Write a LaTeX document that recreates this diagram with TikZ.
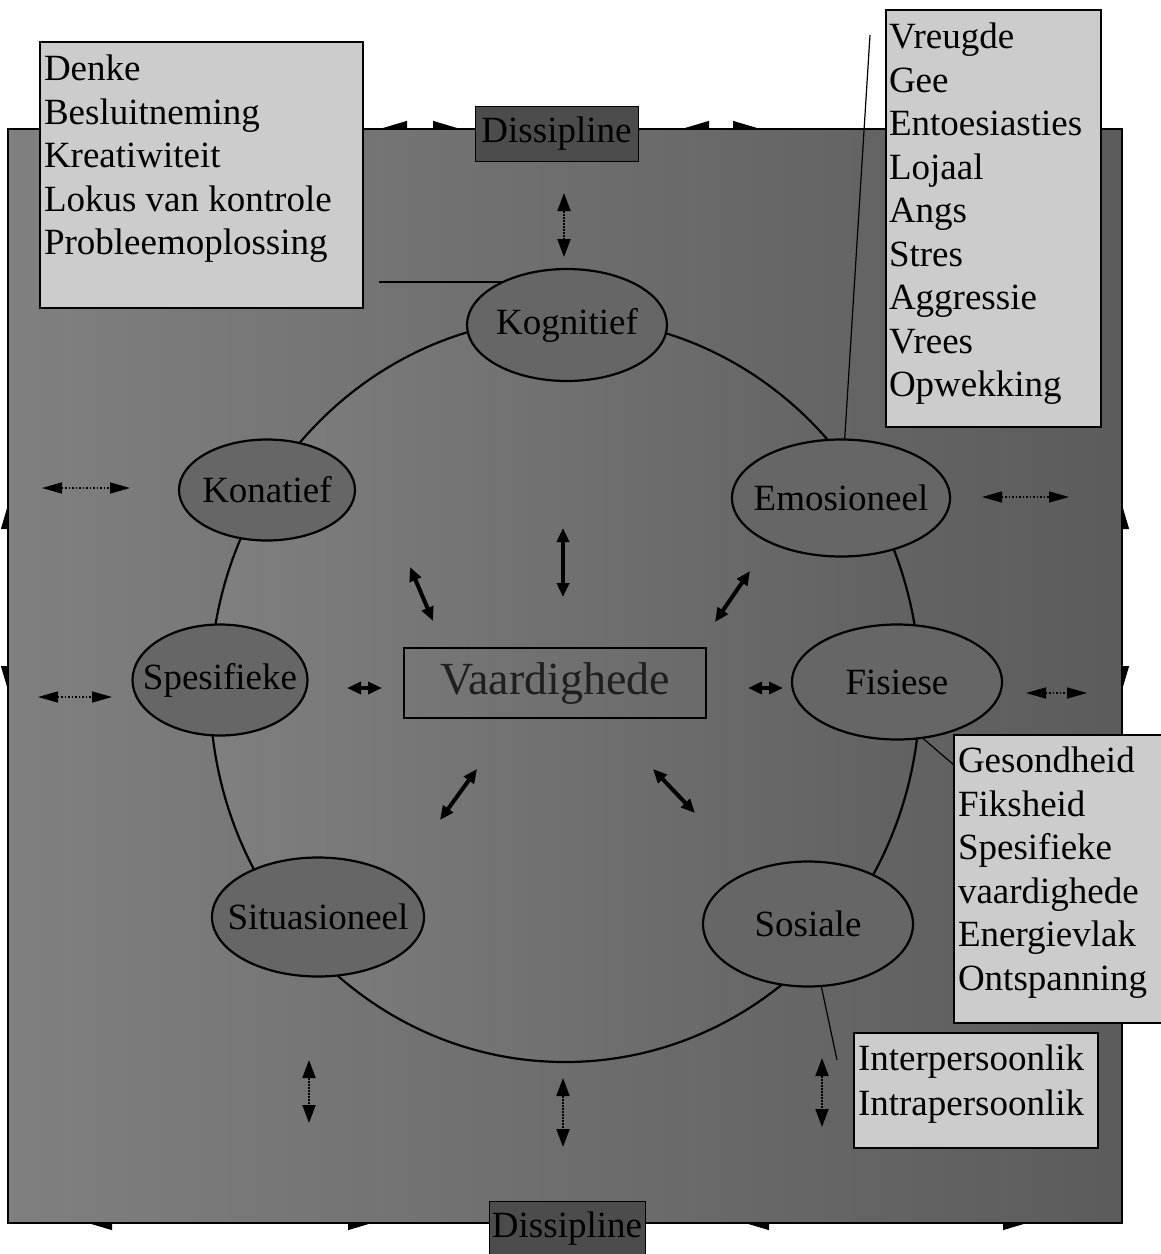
\documentclass[tikz,border=0pt]{standalone}
\usepackage{fontspec}
\setmainfont{Liberation Serif}
\usetikzlibrary{shapes.geometric,arrows.meta}
\newcommand\zlabel[1]{\makebox[0pt]{#1}}
\begin{document}
\begin{tikzpicture}[x=1pt,y=-1pt,
  every node/.style={inner sep=0pt, outer sep=0pt},
  txt/.style={font=\fontsize{37}{43.5}\selectfont},
  oval/.style={ellipse, draw=black, line width=2.2pt, fill=black!60, txt, text=black},
  listbox/.style={draw=black, line width=1.5pt, fill=black!20, anchor=north west},
  listtext/.style={align=left, anchor=north west, txt, text=black},
  disbox/.style={draw=black, line width=1pt, fill=black!70, text=black, txt},
  edgearrow/.style={line width=1pt, {Triangle[length=24pt,width=14pt]}-{Triangle[length=24pt,width=14pt]}},
  innerarrow/.style={line width=4pt, {Triangle[length=14pt,width=12pt]}-{Triangle[length=14pt,width=12pt]}},
  vertarrow/.style={line width=2pt, densely dotted, {Triangle[length=18pt,width=13pt]}-{Triangle[length=18pt,width=13pt]}},
  outerarrow/.style={line width=1.5pt, dotted, {Triangle[length=20pt,width=11pt]}-{Triangle[length=20pt,width=11pt]}},
  leader/.style={line width=1.2pt, draw=black}
]
\useasboundingbox (0,0) rectangle (1161,1254);

% centres of the domain ovals
\coordinate (kogc) at (567,325);
\coordinate (konc) at (267,490);
\coordinate (emoc) at (841,498);
\coordinate (spec) at (220,680);
\coordinate (fisc) at (897,682);
\coordinate (sitc) at (318,917);
\coordinate (sosc) at (808,924);

% arrows running along the frame edges (half hidden by the frame)
\coordinate (t1a) at (383,128); \coordinate (t1b) at (457,128);
\coordinate (t2a) at (685,128); \coordinate (t2b) at (757,128);
\coordinate (b1a) at (88,1223); \coordinate (b1b) at (372,1223);
\coordinate (b2a) at (745,1223); \coordinate (b2b) at (1027,1223);
\coordinate (l1a) at (8,505); \coordinate (l1b) at (8,690);
\coordinate (r1a) at (1122,505); \coordinate (r1b) at (1122,690);
\draw[edgearrow] (t1a) -- (t1b);
\draw[edgearrow] (t2a) -- (t2b);
\draw[edgearrow] (b1a) -- (b1b);
\draw[edgearrow] (b2a) -- (b2b);
\draw[edgearrow] (l1a) -- (l1b);
\draw[edgearrow] (r1a) -- (r1b);

% frame and central body
\node[draw=black, line width=2pt, minimum width=1114pt, minimum height=1094pt,
      left color=black!50, right color=black!64, anchor=north west] (frame) at (8,129) {};
\node[ellipse, draw=black, line width=2.2pt, minimum width=710pt, minimum height=744pt,
      left color=black!50, middle color=black!86, right color=black!62] (core) at (565,690) {};

% leader lines to the lists (their inner ends disappear under the ovals)
\coordinate (dk) at (379,282);
\coordinate (vl) at (870,35);
\coordinate (gl) at (954,765);
\coordinate (fl) at (912,729);
\coordinate (sl) at (837,1060);
\draw[leader] (dk) -- (dk -| kogc);
\draw[leader] (vl) -- (emoc);
\draw[leader] (gl) -- (fl);
\draw[leader] (sl) -- (sosc);

% the seven domains
\node[oval, minimum width=200pt, minimum height=112pt] (kog) at (kogc) {\zlabel{Kognitief}};
\node[oval, minimum width=176pt, minimum height=101pt] (kon) at (konc) {\zlabel{Konatief}};
\node[oval, minimum width=218pt, minimum height=117pt] (emo) at (emoc) {\zlabel{Emosioneel}};
\node[oval, minimum width=175pt, minimum height=111pt] (spe) at (spec) {\zlabel{Spesifieke}};
\node[oval, minimum width=210pt, minimum height=115pt] (fis) at (fisc) {\zlabel{Fisiese}};
\node[oval, minimum width=212pt, minimum height=119pt] (sit) at (sitc) {\zlabel{Situasioneel}};
\node[oval, minimum width=210pt, minimum height=125pt] (sos) at (sosc) {\zlabel{Sosiale}};

% centre
\node[draw=black, line width=1.5pt, minimum width=302pt, minimum height=70pt,
      font=\fontsize{46}{50}\selectfont, text=black!88] (vaar) at (555,683) {Vaardighede};

% discipline boxes
\node[disbox, minimum width=163pt, minimum height=55pt] (distop) at (556.5,133.5) {Dissipline};
\node[disbox, minimum width=156pt, minimum height=56pt] (disbot) at (567,1229) {Dissipline};

% lists
\node[listbox, minimum width=323pt, minimum height=266pt] (denkebox) at (40,42) {};
\node[listtext] (denketext) at (44,55) {Denke\\Besluitneming\\Kreatiwiteit\\Lokus van kontrole\\Probleemoplossing};
\node[listbox, minimum width=215pt, minimum height=417pt] (vreugdebox) at (886,10) {};
\node[listtext] (vreugdetext) at (889,23) {Vreugde\\Gee\\Entoesiasties\\Lojaal\\Angs\\Stres\\Aggressie\\Vrees\\Opwekking};
\node[listbox, minimum width=230pt, minimum height=288pt] (gesbox) at (954,735) {};
\node[listtext] (gestext) at (958,747) {Gesondheid\\Fiksheid\\Spesifieke\\vaardighede\\Energievlak\\Ontspanning};
\node[listbox, minimum width=244pt, minimum height=115pt] (interbox) at (854,1033) {};
\node[listtext, font=\fontsize{37}{45}\selectfont] (intertext) at (858,1045) {Interpersoonlik\\Intrapersoonlik};

% arrows
\coordinate (v1a) at (564,193); \coordinate (v1b) at (564,257);
\coordinate (v2a) at (309,1060); \coordinate (v2b) at (309,1123);
\coordinate (v3a) at (563,1078); \coordinate (v3b) at (563,1147);
\coordinate (v4a) at (822,1058); \coordinate (v4b) at (822,1127);
\draw[vertarrow] (v1a) -- (v1b);
\draw[vertarrow] (v2a) -- (v2b);
\draw[vertarrow] (v3a) -- (v3b);
\draw[vertarrow] (v4a) -- (v4b);

\coordinate (c1a) at (563,528); \coordinate (c1b) at (563,597);
\coordinate (c2a) at (410,567); \coordinate (c2b) at (433,621);
\coordinate (c3a) at (347,688); \coordinate (c3b) at (382,688);
\coordinate (c4a) at (748,688); \coordinate (c4b) at (783,688);
\coordinate (c5a) at (750,571); \coordinate (c5b) at (715,622);
\coordinate (c6a) at (440,820); \coordinate (c6b) at (477,769);
\coordinate (c7a) at (653,769); \coordinate (c7b) at (695,813);
\draw[innerarrow] (c1a) -- (c1b);
\draw[innerarrow] (c2a) -- (c2b);
\draw[innerarrow] (c3a) -- (c3b);
\draw[innerarrow] (c4a) -- (c4b);
\draw[innerarrow] (c5a) -- (c5b);
\draw[innerarrow] (c6a) -- (c6b);
\draw[innerarrow] (c7a) -- (c7b);

\coordinate (o1a) at (42,488); \coordinate (o1b) at (130,488);
\coordinate (o2a) at (38,697); \coordinate (o2b) at (112,697);
\coordinate (o3a) at (982,497); \coordinate (o3b) at (1069,497);
\coordinate (o4a) at (1026,693); \coordinate (o4b) at (1087,693);
\draw[outerarrow] (o1a) -- (o1b);
\draw[outerarrow] (o2a) -- (o2b);
\draw[outerarrow] (o3a) -- (o3b);
\draw[outerarrow] (o4a) -- (o4b);
\end{tikzpicture}
\end{document}
